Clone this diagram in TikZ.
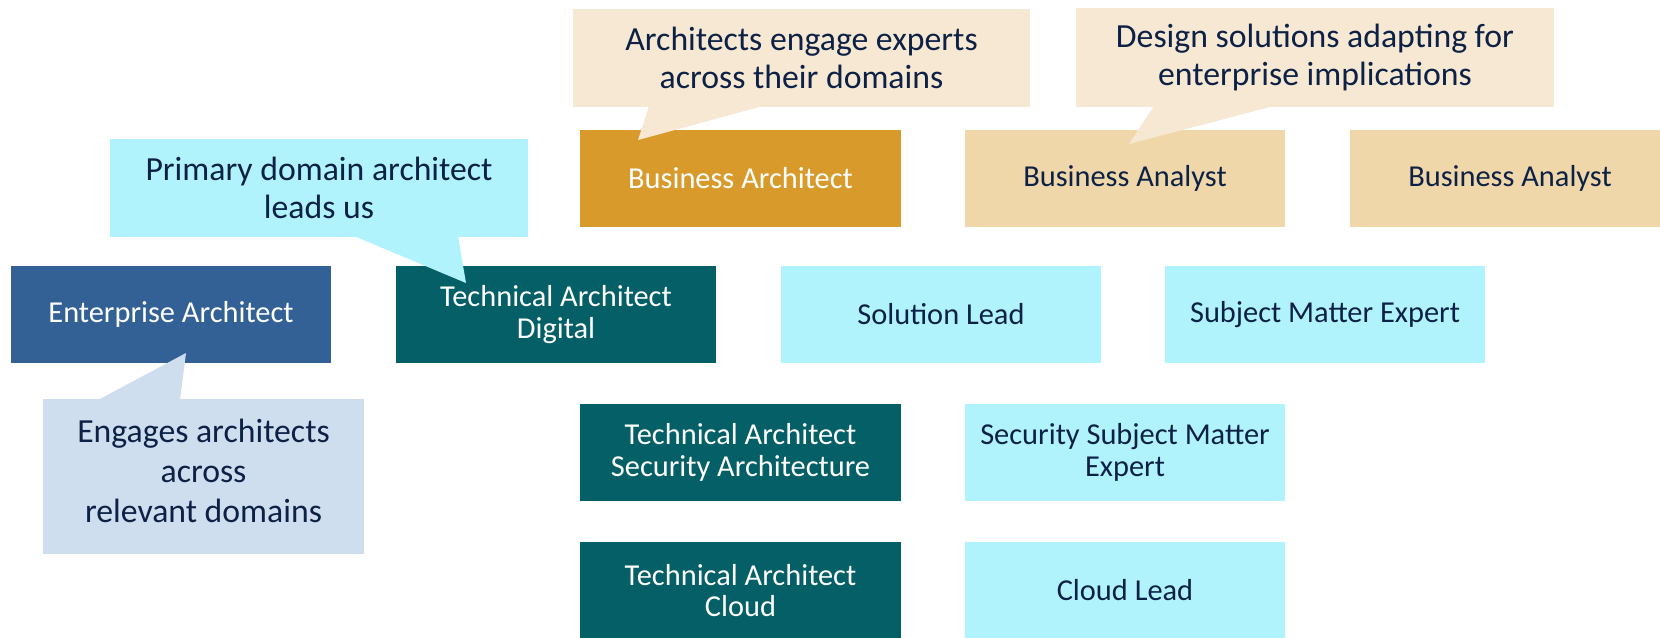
\documentclass[tikz,border=0pt]{standalone}
\usepackage{fontspec}
\setmainfont{Carlito}
\definecolor{orangeba}{HTML}{D99A2C}
\definecolor{tanba}{HTML}{EFD7A9}
\definecolor{tancall}{HTML}{F6E8D3}
\definecolor{eablue}{HTML}{336196}
\definecolor{tealta}{HTML}{045F66}
\definecolor{cyanbox}{HTML}{B0F3FC}
\definecolor{lightcall}{HTML}{CFDEEE}
\definecolor{navytext}{HTML}{0C2145}
\newcommand{\boxfont}{\fontsize{17.3}{18.1}\selectfont}
\newcommand{\callfont}{\fontsize{19.2}{21.6}\selectfont}
\begin{document}
\begin{tikzpicture}[x=0.02cm,y=-0.02cm,
  box/.style={rectangle, minimum width=6.42cm, minimum height=1.94cm, inner sep=0pt, align=center, font=\boxfont},
  darkbox/.style={box, text=white},
  lightbox/.style={box, text=navytext},
  callout/.style={rectangle, inner sep=0pt, align=center, font=\callfont, text=navytext}]
\useasboundingbox (0,0) rectangle (1660,637);

% row 1
\node[darkbox, fill=orangeba] (ba) at (740.5,178) {Business Architect};
\node[lightbox, fill=tanba] (ban1) at (1125,178) {Business Analyst};
\node[lightbox, fill=tanba] (ban2) at (1510,178) {Business Analyst};
% row 2
\node[darkbox, fill=eablue] (ea) at (171,314.5) {Enterprise Architect};
\node[darkbox, fill=tealta] (tad) at (556,314.5) {Technical Architect\\Digital};
\node[lightbox, fill=cyanbox] (sl) at (941,314.5) {Solution Lead};
\node[lightbox, fill=cyanbox] (sme) at (1325,314.5) {Subject Matter Expert};
% row 3
\node[darkbox, fill=tealta] (tas) at (740.5,452.5) {Technical Architect\\Security Architecture};
\node[lightbox, fill=cyanbox] (ssme) at (1125,452.5) {Security Subject Matter\\Expert};
% row 4
\node[darkbox, fill=tealta] (tac) at (740.5,590.5) {Technical Architect\\Cloud};
\node[lightbox, fill=cyanbox] (cl) at (1125,590.5) {Cloud Lead};

% callouts
\node[callout, fill=tancall, minimum width=9.14cm, minimum height=1.96cm] (c1) at (801.5,58) {Architects engage experts\\across their domains};
\coordinate (c1tip) at (638,140);
\fill[tancall] (649,106) -- (c1tip) -- (763,106) -- cycle;

\node[callout, fill=tancall, minimum width=9.56cm, minimum height=1.98cm] (c2) at (1315,57.5) {Design solutions adapting for\\enterprise implications};
\coordinate (c2tip) at (1129,144);
\fill[tancall] (1154,106) -- (c2tip) -- (1274,106) -- cycle;

\node[callout, fill=cyanbox, minimum width=8.36cm, minimum height=1.96cm] (c3) at (319,188) {Primary domain architect\\leads us};
\coordinate (c3tip) at (466,283);
\fill[cyanbox] (354,236) -- (c3tip) -- (458,236) -- cycle;

\node[callout, fill=lightcall, minimum width=6.42cm, minimum height=3.1cm] (c4) at (203.5,476.5) {};
\node[callout, anchor=center, font=\fontsize{19.2}{22.8}\selectfont] (c4t) at (203.5,471) {Engages architects\\across\\relevant domains};
\coordinate (c4tip) at (186,353);
\fill[lightcall] (98,400) -- (c4tip) -- (180,400) -- cycle;
\end{tikzpicture}
\end{document}
